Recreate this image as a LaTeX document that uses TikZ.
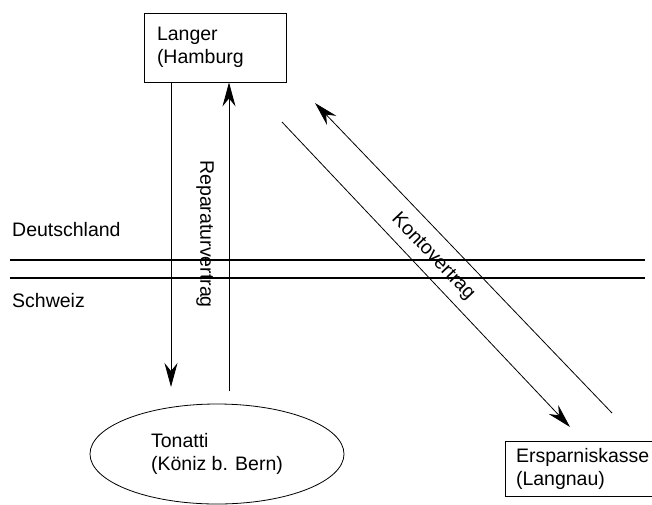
\documentclass[tikz,border=0pt]{standalone}
\usepackage{fontspec}
\setmainfont{Liberation Sans}
\usetikzlibrary{arrows.meta,shapes.geometric}

\begin{document}
\begin{tikzpicture}[x=1pt,y=-1pt]
    \useasboundingbox (0,0) rectangle (652,504);
    \fontsize{19.5pt}{23pt}\selectfont

    \tikzstyle{party}=[draw=black, line width=0.8pt, align=left, inner sep=0pt]
    \tikzstyle{bank}=[party, rectangle, minimum width=142, minimum height=69]
    \tikzstyle{client}=[party, ellipse, minimum width=254, minimum height=100]
    \tikzstyle{lbl}=[inner sep=0pt]

    \node[bank]  (langer) at (215,47.5) {\parbox{116pt}{Langer\\(Hamburg}};
    \node[party, rectangle, minimum width=160, minimum height=55]  (kasse) at (585,468.5) {\parbox{138pt}{Ersparniskasse\\(Langnau)}};
    \node[client]  (tonatti) at (217,454) {Tonatti\\(Köniz b. Bern)};

    \node[lbl, anchor=base west]  (de) at (12,236) {Deutschland};
    \node[lbl, anchor=base west]  (ch) at (12,307) {Schweiz};
    \node[lbl, rotate=-90]  (repvertrag) at (205,234) {Reparaturvertrag};
    \node[lbl, rotate=-46.4]  (kontovertrag) at (433,257) {Kontovertrag};

    % border
    \coordinate (bW1) at (10,260);
    \coordinate (bE1) at (645,260);
    \coordinate (bW2) at (10,278);
    \coordinate (bE2) at (645,278);

    % free ends of the connectors
    \coordinate (downS) at (171,387);
    \coordinate (upS) at (229,391);
    \coordinate (diagA) at (282,122);
    \coordinate (diagAend) at (570,427);
    \coordinate (diagB) at (612,413);
    \coordinate (diagBend) at (315,103);

    \tikzstyle{fwd} = [draw=black, line width=0.8pt, -{Stealth[length=24pt,width=13pt,inset=8pt]}]
    \tikzstyle{border} = [draw=black, line width=1.5pt]

          \draw [border] (bW1) -- (bE1);
          \draw [border] (bW2) -- (bE2);
          \draw [fwd] (langer.south -| downS) -- (downS);
          \draw [fwd] (upS) -- (langer.south -| upS);
          \draw [fwd] (diagA) -- (diagAend);
          \draw [fwd] (diagB) -- (diagBend);

  \end{tikzpicture}
\end{document}
